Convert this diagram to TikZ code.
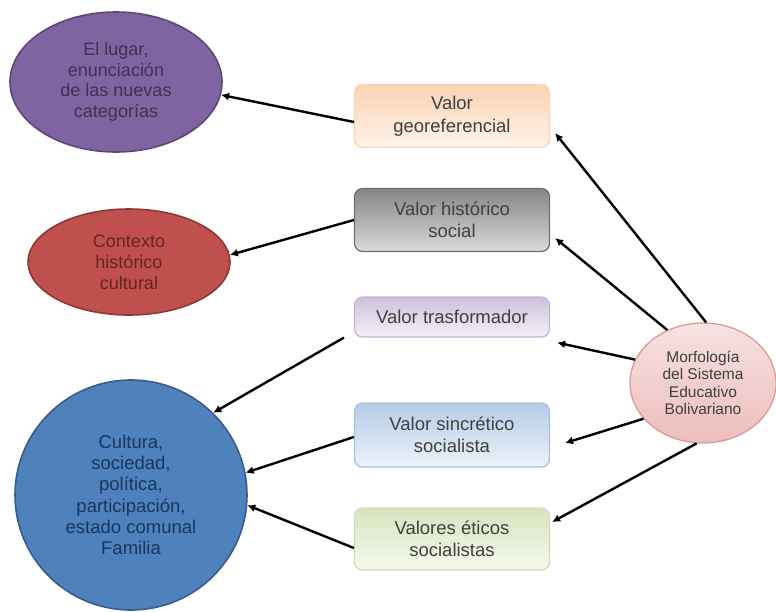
\documentclass[tikz,border=0pt]{standalone}
\usepackage{fontspec}
\setmainfont{Liberation Sans}
\usetikzlibrary{arrows.meta,shapes.geometric}
\definecolor{purpfill}{HTML}{8064A2}
\definecolor{purpline}{HTML}{5C4776}
\definecolor{purptext}{HTML}{3F3151}
\definecolor{redfill}{HTML}{C0504D}
\definecolor{redline}{HTML}{8C3836}
\definecolor{redtext}{HTML}{632523}
\definecolor{bluefill}{HTML}{4F81BD}
\definecolor{blueline}{HTML}{385D8A}
\definecolor{bluetext}{HTML}{17375E}
\definecolor{pinktop}{HTML}{F8E2E2}
\definecolor{pinkbot}{HTML}{EDBDBD}
\definecolor{pinkline}{HTML}{D99694}
\definecolor{txtgray}{HTML}{404040}
\definecolor{orgtop}{HTML}{FBD3B1}
\definecolor{orgbot}{HTML}{FEF3EA}
\definecolor{orgline}{HTML}{F9D3B0}
\definecolor{graytop}{HTML}{858585}
\definecolor{graybot}{HTML}{DADADA}
\definecolor{grayline}{HTML}{6E6E6E}
\definecolor{lavtop}{HTML}{CDC1DB}
\definecolor{lavbot}{HTML}{F4F1F8}
\definecolor{lavline}{HTML}{C2B5D3}
\definecolor{ltbtop}{HTML}{B5CBE6}
\definecolor{ltbbot}{HTML}{EEF3FA}
\definecolor{ltbline}{HTML}{A9C0DE}
\definecolor{grntop}{HTML}{D7E4BD}
\definecolor{grnbot}{HTML}{F6F9EE}
\definecolor{grnline}{HTML}{CFDDB4}
\begin{document}
\begin{tikzpicture}[x=1pt,y=-1pt,
  conn/.style={draw=black,line width=2.4pt,-{Latex[length=8pt,width=8pt]}},
  valbox/.style={rectangle,rounded corners=8pt,minimum width=195pt,line width=1.2pt,
    align=center,font=\fontsize{18.5}{22.5}\selectfont,text=txtgray,inner sep=0pt},
  bigell/.style={ellipse,inner sep=0pt,line width=1.6pt,align=center},
]
\useasboundingbox (0,0) rectangle (776,611);

% ellipses
\node[bigell,minimum width=212pt,minimum height=140pt,fill=purpfill,draw=purpline,
  text=purptext,font=\fontsize{18}{20.5}\selectfont] (purple) at (116,82)
  {El lugar,\\enunciación\\de las nuevas\\categorías};
\node[bigell,minimum width=202pt,minimum height=106pt,fill=redfill,draw=redline,
  text=redtext,font=\fontsize{18}{21}\selectfont] (red) at (129,262)
  {Contexto\\histórico\\cultural};
\node[bigell,minimum width=232pt,minimum height=230pt,fill=bluefill,draw=blueline,
  text=bluetext,font=\fontsize{18.5}{21.3}\selectfont] (blue) at (131,495)
  {Cultura,\\sociedad,\\política,\\participación,\\estado comunal\\Familia};
\node[bigell,minimum width=146pt,minimum height=120pt,top color=pinktop,bottom color=pinkbot,
  draw=pinkline,line width=1.2pt,text=txtgray,font=\fontsize{15.5}{17.5}\selectfont] (pink) at (703,383)
  {Morfología\\del Sistema\\Educativo\\Bolivariano};

% boxes
\node[valbox,minimum height=63pt,top color=orgtop,bottom color=orgbot,draw=orgline] (geo) at (452,116)
  {Valor\\georeferencial};
\node[valbox,minimum height=63pt,top color=graytop,bottom color=graybot,draw=grayline] (hist) at (452,220)
  {Valor histórico\\social};
\node[valbox,minimum height=40pt,top color=lavtop,bottom color=lavbot,draw=lavline] (traf) at (452,317)
  {Valor trasformador};
\node[valbox,minimum height=64pt,top color=ltbtop,bottom color=ltbbot,draw=ltbline] (sinc) at (452,435)
  {Valor sincrético\\socialista};
\node[valbox,minimum height=62pt,top color=grntop,bottom color=grnbot,draw=grnline] (etic) at (452,539)
  {Valores éticos\\socialistas};

% connectors: boxes to ellipses
\draw[conn] ([yshift=-6pt]geo.west) -- (purple.-7);
\draw[conn] (hist.west) -- (red.4);
\coordinate (trafstart) at ([xshift=-10pt]traf.south west);
\draw[conn] (trafstart) -- (blue.45);
\draw[conn] ([yshift=-2pt]sinc.west) -- (blue.11);
\draw[conn] ([yshift=-9pt]etic.west) -- (blue.-5);

% connectors: central ellipse to boxes
\draw[conn] (pink.87) -- ([xshift=5pt,yshift=-17pt]geo.east);
\draw[conn] (pink.124) -- ([xshift=5pt,yshift=-18pt]hist.east);
\draw[conn] (pink.161) -- ([xshift=7pt,yshift=-5pt]traf.south east);
\draw[conn] (pink.211) -- ([xshift=15pt,yshift=-8pt]sinc.east);
\draw[conn] (pink.264) -- ([xshift=2pt,yshift=17pt]etic.east);
\end{tikzpicture}
\end{document}
